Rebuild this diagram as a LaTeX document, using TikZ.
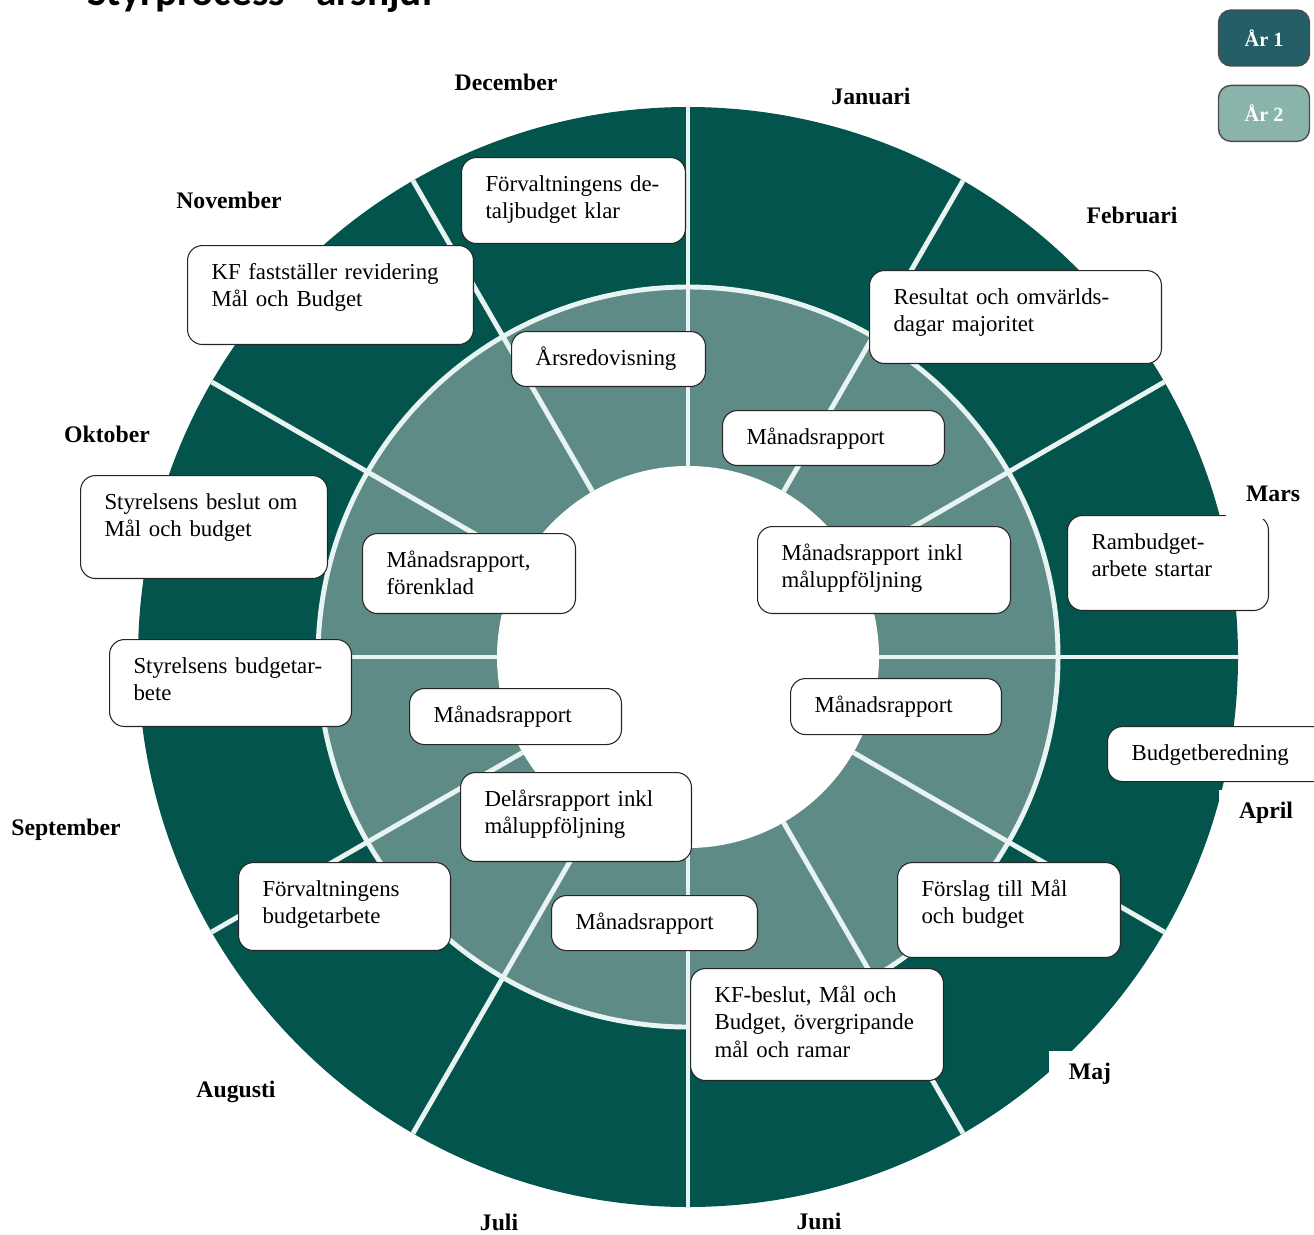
\documentclass[tikz,border=0pt]{standalone}
\usepackage{fontspec}
\setmainfont{Liberation Serif}
\newfontfamily\titlefont{Carlito}
\usetikzlibrary{positioning}

\definecolor{ringdark}{HTML}{03544C}
\definecolor{ringlight}{HTML}{5F8B87}
\definecolor{seplight}{HTML}{E8F4F2}
\definecolor{yearone}{HTML}{245F68}
\definecolor{yeartwo}{HTML}{8AB4AB}
\hyphenpenalty=10000\relax

\begin{document}
\begin{tikzpicture}[x=0.02cm, y=-0.02cm,
  sep/.style={draw=seplight, line width=2.8pt},
  evt/.style={draw=black!85, fill=white, line width=0.6pt, rounded corners=0.3cm, anchor=north west, align=left, inner xsep=0.48cm, inner ysep=0pt, text height=0.68cm, font=\fontsize{13}{15.6}\selectfont},
  month/.style={fill=white, inner xsep=0.4cm, inner ysep=0.25cm, font=\bfseries\fontsize{13.5}{16}\selectfont},
  yearbox/.style={draw=black!70, line width=0.8pt, rounded corners=0.25cm, minimum width=1.82cm, minimum height=1.12cm, text=white, font=\bfseries\fontsize{11.5}{14}\selectfont}]
\useasboundingbox (0,0) rectangle (1314,1234);
\node[anchor=base west, inner sep=0pt, font=\titlefont\bfseries\fontsize{23.5}{26}\selectfont] (title) at (87,5) {Styrprocess - årshjul};

\coordinate (C) at (688,657);
\fill[ringdark] (C) circle[radius=550];
\fill[ringlight] (C) circle[radius=370];
\draw[sep] (C) circle[radius=370];
\fill[white] (C) circle[radius=191];
\foreach \a in {0,30,...,330}
  \draw[sep, shift={(C)}] (\a:191) -- (\a:550);

\node[evt, text width=3.52cm, text depth=1.04cm] (detalj) at (461,157) {Förvaltningens de-\\taljbudget klar};
\node[evt, text width=4.76cm, text depth=1.30cm] (kfrevid) at (187,245) {KF fastställer revidering\\Mål och Budget};
\node[evt, text width=2.92cm, text depth=0.42cm] (arsred) at (511,331) {Årsredovisning};
\node[evt, text width=4.88cm, text depth=1.18cm] (omvarld) at (869,270) {Resultat och omvärlds-\\dagar majoritet};
\node[evt, text width=3.48cm, text depth=0.42cm] (manfeb) at (722,410) {Månadsrapport};
\node[evt, text width=4.10cm, text depth=1.06cm] (manmar) at (757,526) {Månadsrapport inkl\\måluppföljning};
\node[evt, text width=3.06cm, text depth=1.22cm] (rambudget) at (1067,515) {Rambudget-\\arbete startar};
\node[evt, text width=3.98cm, text depth=1.38cm] (styrbeslut) at (80,475) {Styrelsens beslut om\\Mål och budget};
\node[evt, text width=3.30cm, text depth=0.92cm] (manokt) at (362,533) {Månadsrapport,\\förenklad};
\node[evt, text width=3.88cm, text depth=1.06cm] (styrbudget) at (109,639) {Styrelsens budgetar-\\bete};
\node[evt, text width=3.28cm, text depth=0.44cm] (mansep) at (409,688) {Månadsrapport};
\node[evt, text width=3.26cm, text depth=0.44cm] (manapr) at (790,678) {Månadsrapport};
\node[evt, text width=3.64cm, text depth=0.42cm] (beredning) at (1107,726) {Budgetberedning};
\node[evt, text width=3.66cm, text depth=1.10cm] (delars) at (460,772) {Delårsrapport inkl\\måluppföljning};
\node[evt, text width=3.28cm, text depth=1.08cm] (forvbudget) at (238,862) {Förvaltningens\\budgetarbete};
\node[evt, text width=3.16cm, text depth=0.42cm] (manjun) at (551,895) {Månadsrapport};
\node[evt, text width=3.50cm, text depth=1.22cm] (forslag) at (897,862) {Förslag till Mål\\och budget};
\node[evt, text width=4.10cm, text depth=1.56cm] (kfbeslut) at (690,968) {KF-beslut, Mål och\\Budget, övergripande\\mål och ramar};

\node[month] (jan) at (871,96) {Januari};
\node[month] (feb) at (1132,215) {Februari};
\node[month, inner ysep=0.34cm] (mar) at (1273,494) {Mars};
\node[month] (apr) at (1266,813) {April};
\node[month] (maj) at (1090,1074) {Maj};
\node[month] (jun) at (819,1221) {Juni};
\node[month] (jul) at (499,1222) {Juli};
\node[month] (aug) at (236,1092) {Augusti};
\node[month] (sep) at (66,830) {September};
\node[month] (okt) at (107,434) {Oktober};
\node[month] (nov) at (229,200) {November};
\node[month] (dec) at (506,82) {December};

\node[yearbox, fill=yearone] (ar1) at (1264,38) {År 1};
\node[yearbox, fill=yeartwo, below=0.36cm of ar1] (ar2) {År 2};
\end{tikzpicture}
\end{document}
